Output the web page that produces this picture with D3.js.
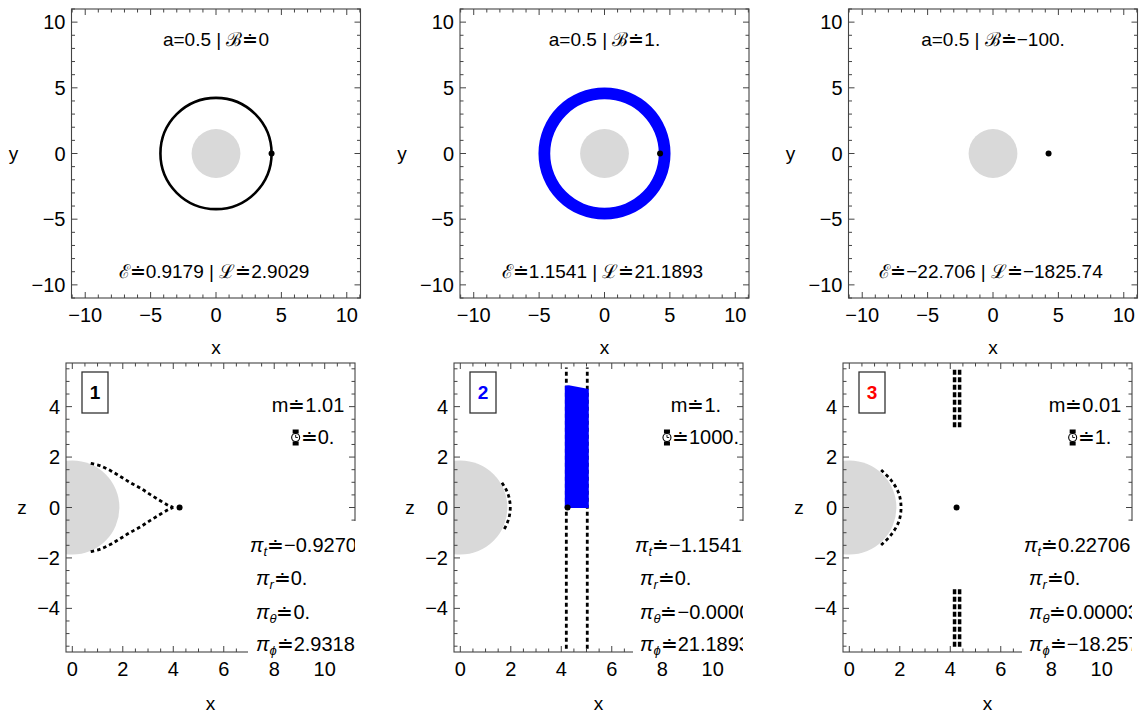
<!DOCTYPE html>
<html>
<head>
<meta charset="utf-8">
<script src="https://cdn.jsdelivr.net/npm/d3@7"></script>
<style>
  body { margin: 0; background: #fff; }
  svg { display: block; font-family: "Liberation Sans", Arial, Helvetica, sans-serif; }
</style>
</head>
<body>
<div id="viz"></div>
<script>
// values
const spinA = '0.5';
const fieldB = ['0', '1.', '−100.'];
const energyE = ['0.9179', '1.1541', '−22.706'];
const angMomL = ['2.9029', '21.1893', '−1825.74'];
const massM = ['1.01', '1.', '0.01'];
const properTime = ['0.', '1000.', '1.'];
const piT = ['−0.92706', '−1.15412', '0.22706'];
const piR = ['0.', '0.', '0.'];
const piTheta = ['0.', '−0.00006', '0.00003'];
const piPhi = ['2.93184', '21.18932', '−18.2571'];
const caseLabels = ['1', '2', '3'];
const caseColors = ['#000000', '#0000ff', '#ff0000'];

const horizonR = 1.866;
const startR = 4.25;

const topTicks = [-10, -5, 0, 5, 10];
const sideXTicks = [0, 2, 4, 6, 8, 10];
const sideZTicks = [-4, -2, 0, 2, 4];

// equatorial (x,y) views
const orbitCircle = [4.25];            // panel 1
const orbitRing = [[4.15, 5.05]];      // panel 2, inner/outer radius

// meridional (x,z) views
const upperCurve1 = [[0.73, 1.75], [1.12, 1.65], [1.52, 1.46], [1.92, 1.22], [2.31, 0.98],
  [2.71, 0.76], [3.11, 0.5], [3.5, 0.26], [3.83, 0.07], [4.0, 0]];
const lowerCurve1 = [[0.73, -1.75], [1.12, -1.65], [1.52, -1.46], [1.92, -1.22], [2.31, -0.98],
  [2.71, -0.76], [3.11, -0.5], [3.5, -0.26], [3.83, -0.07], [4.0, 0]];
const arc2 = [[1.65, 0.98], [1.82, 0.7], [1.93, 0.4], [1.98, 0], [1.93, -0.4], [1.82, -0.7], [1.68, -0.96]];
const arc3 = [[1.26, 1.49], [1.65, 1.09], [1.96, 0.56], [2.05, 0], [1.96, -0.56], [1.65, -1.09], [1.26, -1.49]];
const walls2 = [[[4.2, -5.6], [4.2, 5.55]], [[5.03, -5.6], [5.03, 5.55]]];
const band2 = [[4.14, -0.02], [4.14, 4.83], [4.3, 4.85], [5.09, 4.7], [5.09, -0.02]];
const columns3 = [[[4.17, 3.18], [4.17, 5.52]], [[4.37, 3.18], [4.37, 5.52]],
  [[4.17, -5.52], [4.17, -3.21]], [[4.37, -5.52], [4.37, -3.21]]];

const width = 1142;
const height = 718;
const size = 289;
const topLeft = [71.5, 460, 848.5];
const topTop = 9;
const sideLeft = [66, 454, 843];
const sideTop = 363;
const frameColor = '#444';
const fs = 19;
const tickFs = 20;

const svg = d3.select('#viz').append('svg')
  .attr('width', width)
  .attr('height', height);

const minus = v => v < 0 ? '−' + Math.abs(v) : String(v);

function drawFrame(g, xs, ys, xMajor, xMinor, yMajor, yMinor) {
  const [x0, x1] = xs.range();
  const [y1, y0] = ys.range();
  const tk = g.append('g').attr('stroke', frameColor).attr('stroke-width', 1);
  xMajor.forEach(v => {
    tk.append('line').attr('x1', xs(v)).attr('x2', xs(v)).attr('y1', y1).attr('y2', y1 - 6);
    tk.append('line').attr('x1', xs(v)).attr('x2', xs(v)).attr('y1', y0).attr('y2', y0 + 6);
  });
  xMinor.forEach(v => {
    tk.append('line').attr('x1', xs(v)).attr('x2', xs(v)).attr('y1', y1).attr('y2', y1 - 3.5);
    tk.append('line').attr('x1', xs(v)).attr('x2', xs(v)).attr('y1', y0).attr('y2', y0 + 3.5);
  });
  yMajor.forEach(v => {
    tk.append('line').attr('y1', ys(v)).attr('y2', ys(v)).attr('x1', x0).attr('x2', x0 + 6);
    tk.append('line').attr('y1', ys(v)).attr('y2', ys(v)).attr('x1', x1).attr('x2', x1 - 6);
  });
  yMinor.forEach(v => {
    tk.append('line').attr('y1', ys(v)).attr('y2', ys(v)).attr('x1', x0).attr('x2', x0 + 3.5);
    tk.append('line').attr('y1', ys(v)).attr('y2', ys(v)).attr('x1', x1).attr('x2', x1 - 3.5);
  });
  g.append('rect')
    .attr('x', x0).attr('y', y0)
    .attr('width', x1 - x0).attr('height', y1 - y0)
    .attr('fill', 'none').attr('stroke', frameColor).attr('stroke-width', 1.1);

  g.selectAll(null).data(xMajor).join('text')
    .attr('x', d => xs(d)).attr('y', y1 + 24)
    .attr('text-anchor', 'middle').attr('font-size', tickFs)
    .text(minus);
  g.selectAll(null).data(yMajor).join('text')
    .attr('x', x0 - 6).attr('y', d => ys(d) + 7)
    .attr('text-anchor', 'end').attr('font-size', tickFs)
    .text(minus);
}

const line = d3.line().curve(d3.curveCatmullRom);

// ---------- top row: equatorial plane ----------
topLeft.forEach((left, i) => {
  const xs = d3.scaleLinear().domain([-11.05, 11.05]).range([left, left + size]);
  const ys = d3.scaleLinear().domain([-11, 11]).range([topTop + size, topTop]);
  const g = svg.append('g');
  const clipId = 'ct' + i;
  g.append('clipPath').attr('id', clipId).append('rect')
    .attr('x', left).attr('y', topTop).attr('width', size).attr('height', size);
  const plot = g.append('g').attr('clip-path', `url(#${clipId})`);
  const px = r => xs(r) - xs(0);

  plot.append('circle')
    .attr('cx', xs(0)).attr('cy', ys(0)).attr('r', px(horizonR))
    .attr('fill', '#d9d9d9');

  if (i === 0) {
    plot.selectAll(null).data(orbitCircle).join('circle')
      .attr('cx', xs(0)).attr('cy', ys(0)).attr('r', d => px(d))
      .attr('fill', 'none').attr('stroke', '#000').attr('stroke-width', 2.6);
  }
  if (i === 1) {
    plot.selectAll(null).data(orbitRing).join('path')
      .attr('transform', `translate(${xs(0)},${ys(0)})`)
      .attr('d', d => d3.arc()({ innerRadius: px(d[0]), outerRadius: px(d[1]), startAngle: 0, endAngle: 2 * Math.PI }))
      .attr('fill', '#0000ff');
  }
  plot.append('circle')
    .attr('cx', xs(startR)).attr('cy', ys(0)).attr('r', 3)
    .attr('fill', '#000');

  drawFrame(g, xs, ys, topTicks, d3.range(-11, 12).filter(v => v % 5 !== 0), topTicks,
    d3.range(-11, 12).filter(v => v % 5 !== 0));

  g.append('text').attr('x', xs(0)).attr('y', topTop + 37)
    .attr('text-anchor', 'middle').attr('font-size', fs)
    .text(`a=${spinA} | ℬ≐${fieldB[i]}`);
  g.append('text').attr('x', xs(0) - 2).attr('y', topTop + 269)
    .attr('text-anchor', 'middle').attr('font-size', fs)
    .text(`ℰ≐${energyE[i]} | ℒ≐${angMomL[i]}`);

  g.append('text').attr('x', left - 58).attr('y', ys(0) + 6)
    .attr('text-anchor', 'middle').attr('font-size', fs).text('y');
  g.append('text').attr('x', left + size / 2).attr('y', topTop + size + 56)
    .attr('text-anchor', 'middle').attr('font-size', fs).text('x');
});

// ---------- bottom row: meridional plane ----------
sideLeft.forEach((left, i) => {
  const xs = d3.scaleLinear().domain([-0.25, 11.2]).range([left, left + size]);
  const ys = d3.scaleLinear().domain([-5.73, 5.73]).range([sideTop + size, sideTop]);
  const g = svg.append('g');
  const clipId = 'cb' + i;
  g.append('clipPath').attr('id', clipId).append('rect')
    .attr('x', left).attr('y', sideTop).attr('width', size).attr('height', size);
  const clipText = 'cbt' + i;
  g.append('clipPath').attr('id', clipText).append('rect')
    .attr('x', left).attr('y', 0).attr('width', size).attr('height', height);
  const plot = g.append('g').attr('clip-path', `url(#${clipId})`);

  plot.append('ellipse')
    .attr('cx', xs(0)).attr('cy', ys(0))
    .attr('rx', xs(horizonR) - xs(0)).attr('ry', ys(0) - ys(horizonR))
    .attr('fill', '#d9d9d9');

  const dotted = (sel, w, dash) => sel.attr('fill', 'none').attr('stroke', '#000')
    .attr('stroke-width', w).attr('stroke-dasharray', dash);
  const proj = pts => pts.map(p => [xs(p[0]), ys(p[1])]);

  if (i === 0) {
    plot.selectAll(null).data([upperCurve1, lowerCurve1]).join('path')
      .attr('d', d => line(proj(d))).call(dotted, 2.8, '3.5 3');
  }
  if (i === 1) {
    plot.selectAll(null).data(walls2).join('path')
      .attr('d', d => d3.line()(proj(d))).call(dotted, 2.8, '4 3');
    plot.append('path').attr('d', line(proj(arc2))).call(dotted, 2.8, '3.5 3');
    plot.append('path').attr('d', d3.line()(proj(band2)) + 'Z').attr('fill', '#0000ff');
  }
  if (i === 2) {
    plot.append('path').attr('d', line(proj(arc3))).call(dotted, 2.8, '3.5 3');
    plot.selectAll(null).data(columns3).join('path')
      .attr('d', d => d3.line()(proj(d))).call(dotted, 3.5, '5 2.5');
  }
  plot.append('circle')
    .attr('cx', xs(startR)).attr('cy', ys(0)).attr('r', 3)
    .attr('fill', '#000');

  drawFrame(g, xs, ys, sideXTicks, d3.range(0, 11.5, 0.5).filter(v => v % 2 !== 0),
    sideZTicks, d3.range(-5.5, 6, 0.5).filter(v => v % 2 !== 0));

  // case label box
  g.append('rect').attr('x', left + 16).attr('y', sideTop + 9)
    .attr('width', 26).attr('height', 41)
    .attr('fill', '#fff').attr('stroke', '#333').attr('stroke-width', 1.3);
  g.append('text').attr('x', left + 29).attr('y', sideTop + 36)
    .attr('text-anchor', 'middle').attr('font-size', fs).attr('font-weight', 'bold')
    .attr('fill', caseColors[i]).text(caseLabels[i]);

  // mass and proper time
  g.append('text').attr('x', left + 242).attr('y', sideTop + 49)
    .attr('text-anchor', 'middle').attr('font-size', 20)
    .text(`m≐${massM[i]}`);
  const tg = g.append('g');
  const tText = tg.append('text').attr('y', sideTop + 81).attr('font-size', 20)
    .text(`≐${properTime[i]}`);
  const tw = tText.node().getComputedTextLength();
  const iconW = 9;
  const startX = left + 247 - (iconW + tw) / 2;
  tText.attr('x', startX + iconW);
  const icon = tg.append('g').attr('transform', `translate(${startX + 4},${sideTop + 74.5})`);
  icon.append('rect').attr('x', -3).attr('y', -8).attr('width', 6).attr('height', 4).attr('fill', '#000');
  icon.append('rect').attr('x', -3).attr('y', 4).attr('width', 6).attr('height', 4).attr('fill', '#000');
  icon.append('circle').attr('r', 4).attr('fill', '#fff').attr('stroke', '#000').attr('stroke-width', 1.1);
  icon.append('path').attr('d', 'M0,-2.6V0H2.2').attr('fill', 'none').attr('stroke', '#000').attr('stroke-width', 0.9);

  // conserved momenta block (white background hides the frame corner)
  const offT = i === 0 ? 184 : 181;
  const offO = i === 0 ? 190 : 186;
  g.append('rect').attr('x', left + offT - 2).attr('y', 521)
    .attr('width', size - offT + 4).attr('height', 140).attr('fill', '#fff');
  const tb = g.append('g').attr('clip-path', `url(#${clipText})`);
  const rows = [['t', piT[i], offT, 552], ['r', piR[i], offO, 585], ['θ', piTheta[i], offO, 619], ['ϕ', piPhi[i], offO, 651]];
  rows.forEach(([sub, val, off, yb]) => {
    const t = tb.append('text').attr('x', left + off).attr('y', yb).attr('font-size', 20);
    t.append('tspan').attr('font-style', 'italic').text('π');
    t.append('tspan').attr('font-style', 'italic').attr('font-size', 13).attr('dy', 4).text(sub);
    t.append('tspan').attr('dy', -4).text(`≐${val}`);
  });

  g.append('text').attr('x', left - 44).attr('y', ys(0) + 6)
    .attr('text-anchor', 'middle').attr('font-size', fs).text('z');
  g.append('text').attr('x', left + size / 2).attr('y', sideTop + size + 58)
    .attr('text-anchor', 'middle').attr('font-size', fs).text('x');
});
</script>
</body>
</html>
